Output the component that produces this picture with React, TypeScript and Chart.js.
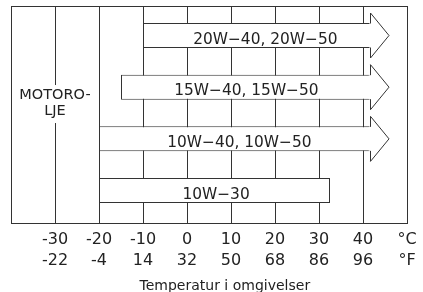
import React, { useEffect, useRef } from 'react';
import { Chart, registerables } from 'chart.js';

Chart.register(...registerables);

// ---- data ----
const oilGrades = ['20W−40, 20W−50', '15W−40, 15W−50', '10W−40, 10W−50', '10W−30'];
const rangeStartC = [-10, -15, -20, -20];
const rangeEndC = [41.75, 41.75, 41.75, 32.5];
const openEnded = [true, true, true, false];
const labelAnchorC = [17.8, 13.5, 11.9, 6.6];
const celsiusTicks = [-30, -20, -10, 0, 10, 20, 30, 40];
const fahrenheitTicks = [-22, -4, 14, 32, 50, 68, 86, 96];
const unitLabels = ['°C', '°F'];
const sideLabel = ['MOTORO-', 'LJE'];
const axisTitle = 'Temperatur i omgivelser';

// ---- style ----
const LINE = '#333';
const TEXT = '#222';
const FONT = 'DejaVu Sans';
const HEAD_LEN = 18.5;
const HEAD_HALF = 22.5;

const overlay = {
  id: 'overlay',
  afterDatasetsDraw(chart: any) {
    const { ctx, chartArea, scales } = chart;
    const { left, right, top } = chartArea;
    const xs = scales.x;
    const ys = scales.y;
    ctx.save();
    ctx.strokeStyle = LINE;
    ctx.lineWidth = 1;
    // top frame
    ctx.beginPath();
    ctx.moveTo(left, top + 0.5);
    ctx.lineTo(right, top + 0.5);
    ctx.stroke();

    // arrow heads
    const meta = chart.getDatasetMeta(0);
    meta.data.forEach((el: any, i: number) => {
      if (!openEnded[i]) return;
      const p = el.getProps(['x', 'y', 'height'], true);
      const bx = Math.round(p.x) - 0.5;
      const t = p.y - p.height / 2;
      const b = p.y + p.height / 2;
      const tip = bx + HEAD_LEN;
      ctx.fillStyle = '#fff';
      ctx.beginPath();
      ctx.moveTo(bx - 1, p.y - HEAD_HALF);
      ctx.lineTo(tip, p.y);
      ctx.lineTo(bx - 1, p.y + HEAD_HALF);
      ctx.closePath();
      ctx.fill();
      ctx.fillRect(bx - 2, t + 1, 4, b - t - 2);
      ctx.beginPath();
      ctx.moveTo(bx, t + 0.5);
      ctx.lineTo(bx, p.y - HEAD_HALF);
      ctx.lineTo(tip, p.y);
      ctx.lineTo(bx, p.y + HEAD_HALF);
      ctx.lineTo(bx, b - 0.5);
      ctx.stroke();
    });

    // bar labels
    ctx.fillStyle = TEXT;
    ctx.font = `15.4px "${FONT}"`;
    ctx.textAlign = 'center';
    ctx.textBaseline = 'alphabetic';
    meta.data.forEach((el: any, i: number) => {
      const p = el.getProps(['y'], true);
      ctx.fillText(oilGrades[i], xs.getPixelForValue(labelAnchorC[i]), p.y + 8);
    });

    // side label with break in the -30 line
    const sx = xs.getPixelForValue(-30);
    const my = ys.getPixelForValue(2.5);
    ctx.fillStyle = '#fff';
    ctx.fillRect(sx - 3, my - 28, 6, 38);
    ctx.fillStyle = TEXT;
    ctx.font = `14.5px "${FONT}"`;
    ctx.fillText(sideLabel[0], sx, my - 14);
    ctx.fillText(sideLabel[1], sx, my + 2);

    // axis title
    ctx.font = `14px "${FONT}"`;
    ctx.fillText(axisTitle, xs.getPixelForValue(8.6), chart.height - 2);
    ctx.restore();
  },
};

export default function App() {
  const ref = useRef<HTMLCanvasElement | null>(null);
  useEffect(() => {
    document.body.style.margin = '0';
    const canvas = ref.current;
    if (!canvas) return;
    const chart = new Chart(canvas, {
      type: 'bar',
      data: {
        datasets: [
          {
            data: oilGrades.map((_, i) => ({ x: [rangeStartC[i], rangeEndC[i]], y: i + 1 })) as any,
            backgroundColor: '#fff',
            borderColor: LINE,
            borderWidth: 1,
            borderSkipped: ((c: any) => (openEnded[c.dataIndex] ? 'right' : false)) as any,
            barThickness: 25,
            inflateAmount: 0,
          } as any,
        ],
      },
      options: {
        indexAxis: 'y',
        animation: false,
        responsive: false,
        devicePixelRatio: 1,
        layout: { padding: { left: 11, right: 16, top: 6, bottom: 14.4 } },
        plugins: { legend: { display: false }, tooltip: { enabled: false }, title: { display: false } },
        scales: {
          x: {
            type: 'linear',
            min: -40,
            max: 50,
            ticks: {
              stepSize: 10,
              autoSkip: false,
              maxRotation: 0,
              padding: 6,
              color: TEXT,
              font: { family: FONT, size: 16, lineHeight: 1.33 },
              callback: (v: any) => {
                const idx = celsiusTicks.indexOf(Number(v));
                if (idx >= 0) return [String(celsiusTicks[idx]), String(fahrenheitTicks[idx])];
                if (Number(v) === 50) return unitLabels;
                return '';
              },
            },
            grid: { color: LINE, lineWidth: 1, drawTicks: false },
            border: { display: true, color: LINE, width: 1 },
          },
          y: {
            type: 'linear',
            reverse: true,
            offset: false,
            min: 0.429,
            max: 4.629,
            display: false,
          },
        },
      },
      plugins: [overlay],
    } as any);
    return () => chart.destroy();
  }, []);
  return (
    <div style={{ width: 423, height: 292 }}>
      <canvas ref={ref} width={423} height={292} style={{ display: 'block' }} />
    </div>
  );
}
